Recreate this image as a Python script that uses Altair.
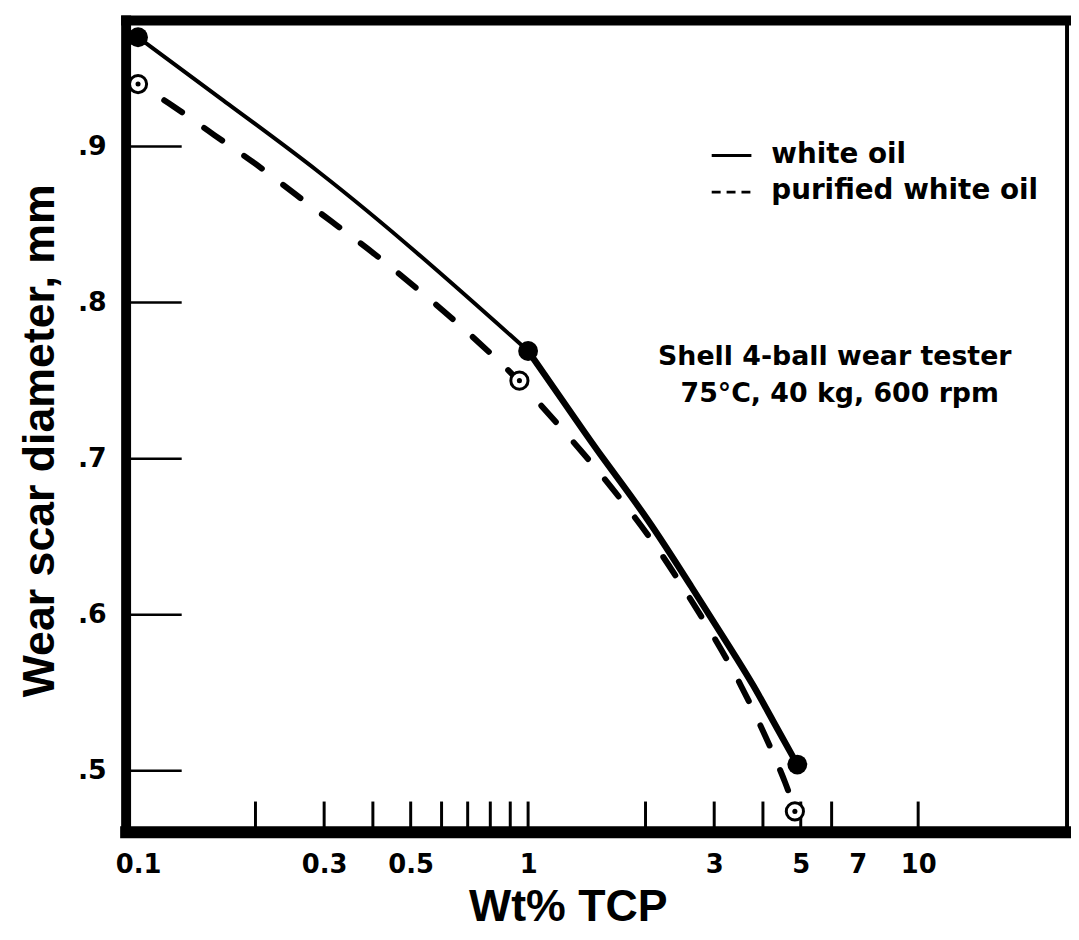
import altair as alt
import pandas as pd

# ---- data ----
white_x = [0.1, 0.160, 0.290, 0.527, 1.0, 1.335, 1.524, 2.04, 2.62, 3.35, 3.78, 4.20, 4.9]
white_y = [0.970, 0.932, 0.885, 0.831, 0.769, 0.724, 0.703, 0.661, 0.618, 0.576, 0.555, 0.534, 0.504]

pur_x = [0.1, 0.122, 0.157, 0.201, 0.254, 0.321, 0.406, 0.508, 0.646, 0.830, 0.95,
         1.44, 1.73, 2.11, 2.55, 3.03, 3.52, 4.07, 4.62, 4.83]
pur_y = [0.940, 0.927, 0.907, 0.889, 0.869, 0.850, 0.831, 0.811, 0.789, 0.764, 0.750,
         0.699, 0.674, 0.646, 0.614, 0.584, 0.555, 0.522, 0.490, 0.474]

white_pts_x = [0.1, 1.0, 4.9]
white_pts_y = [0.970, 0.769, 0.504]
pur_pts_x = [0.1, 0.95, 4.83]
pur_pts_y = [0.940, 0.750, 0.474]

x_minor_ticks = [0.2, 0.3, 0.4, 0.5, 0.6, 0.7, 0.8, 0.9, 1, 2, 3, 4, 5, 6, 10]
x_label_values = [0.1, 0.3, 0.5, 1, 3, 5, 7, 10]
y_tick_values = [0.5, 0.6, 0.7, 0.8, 0.9]

legend_labels = ["white oil", "purified white oil"]
note_lines = ["Shell 4-ball wear tester", "75°C, 40 kg, 600 rpm"]

x_title = "Wt% TCP"
y_title = "Wear scar diameter, mm"

# ---- layout ----
W, H = 948, 818
LABEL_FONT = "DejaVu Sans"
TITLE_FONT = "Liberation Sans"

xscale = alt.Scale(type="log", domain=[0.0932, 24.08], nice=False)
yscale = alt.Scale(domain=[0.4606, 0.9808], nice=False, zero=False)

xaxis = alt.Axis(
    values=x_label_values, format="~g", title=x_title, ticks=False, domain=False,
    grid=False, labelFont=LABEL_FONT, labelFontSize=26, labelFontWeight="bold",
    labelColor="black", labelPadding=19, labelOverlap=False, labelFlush=False,
    titleFont=TITLE_FONT, titleFontSize=45, titleFontWeight="bold", titleColor="black",
    titleX=445, titleY=75, titleAlign="center", titleBaseline="middle",
)
yaxis = alt.Axis(
    values=y_tick_values, labelExpr="substring(format(datum.value, '.1f'), 1)",
    title=y_title, ticks=False, domain=False, grid=False,
    labelFont=LABEL_FONT, labelFontSize=27, labelFontWeight="bold", labelColor="black",
    labelPadding=20, labelBaseline="middle",
    titleFont=TITLE_FONT, titleFontSize=45, titleFontWeight="bold", titleColor="black",
    titleX=-87, titleY=423, titleAngle=-90, titleAlign="center", titleBaseline="middle",
)

X = alt.X("x:Q", scale=xscale, axis=xaxis)
Y = alt.Y("y:Q", scale=yscale, axis=yaxis)

dummy = pd.DataFrame({"k": [0]})

# frame
frame_top = alt.Chart(dummy).mark_rule(color="black", strokeWidth=10, strokeCap="square").encode(
    x=alt.value(0), x2=alt.value(W), y=alt.value(0))
frame_left = alt.Chart(dummy).mark_rule(color="black", strokeWidth=10, strokeCap="square").encode(
    x=alt.value(0), y=alt.value(0), y2=alt.value(H))
frame_bottom = alt.Chart(dummy).mark_rule(color="black", strokeWidth=12, strokeCap="square").encode(
    x=alt.value(0), x2=alt.value(W), y=alt.value(H))
frame_right = alt.Chart(dummy).mark_rule(color="black", strokeWidth=4).encode(
    x=alt.value(W), y=alt.value(0), y2=alt.value(H))

# inner ticks
ytick_df = pd.DataFrame({"y": y_tick_values})
yticks = alt.Chart(ytick_df).mark_rule(color="black", strokeWidth=2.5).encode(
    y=Y, x=alt.value(0), x2=alt.value(56))

xtick_df = pd.DataFrame({"x": x_minor_ticks})
xticks = alt.Chart(xtick_df).mark_rule(color="black", strokeWidth=3).encode(
    x=X, y=alt.value(H), y2=alt.value(H - 31))

# curves
white_df = pd.DataFrame({"x": white_x, "y": white_y})
white_a = alt.Chart(white_df[white_df["x"] <= 1.0]).mark_line(
    color="black", strokeWidth=4, interpolate="basis", strokeCap="round").encode(x=X, y=Y)
white_b = alt.Chart(white_df[white_df["x"] >= 1.0]).mark_line(
    color="black", strokeWidth=6.5, interpolate="basis", strokeCap="round").encode(x=X, y=Y)

pur_df = pd.DataFrame({"x": pur_x, "y": pur_y})
pur_line = alt.Chart(pur_df).mark_line(
    color="black", strokeWidth=6, interpolate="basis", strokeCap="round",
    strokeDash=[22, 27], strokeDashOffset=18).encode(x=X, y=Y)

# markers
wp_df = pd.DataFrame({"x": white_pts_x, "y": white_pts_y})
white_pts = alt.Chart(wp_df).mark_point(
    shape="circle", filled=True, color="black", size=400, opacity=1).encode(x=X, y=Y)

pp_df = pd.DataFrame({"x": pur_pts_x, "y": pur_pts_y})
pur_ring = alt.Chart(pp_df).mark_point(
    shape="circle", filled=True, fill="white", stroke="black", strokeWidth=3,
    size=300, opacity=1).encode(x=X, y=Y)
pur_dot = alt.Chart(pp_df).mark_point(
    shape="circle", filled=True, color="black", size=26, opacity=1).encode(x=X, y=Y)

# legend (hand-made, like the original)
leg_solid = alt.Chart(dummy).mark_rule(color="black", strokeWidth=3).encode(
    x=alt.value(590), x2=alt.value(630), y=alt.value(136))
leg_dash = alt.Chart(dummy).mark_rule(color="black", strokeWidth=3, strokeDash=[9, 6]).encode(
    x=alt.value(590), x2=alt.value(632), y=alt.value(173))

leg_texts = []
for i, lab in enumerate(legend_labels):
    leg_texts.append(
        alt.Chart(pd.DataFrame({"t": [lab]})).mark_text(
            font=LABEL_FONT, fontSize=28, fontWeight="bold", color="black",
            align="left", baseline="alphabetic").encode(
            text="t:N", x=alt.value(650), y=alt.value(144 + 36 * i)))

note_texts = []
for i, line in enumerate(note_lines):
    note_texts.append(
        alt.Chart(pd.DataFrame({"t": [line]})).mark_text(
            font=LABEL_FONT, fontSize=27, fontWeight="bold", color="black",
            align="center", baseline="alphabetic").encode(
            text="t:N", x=alt.value(714 + 5 * i), y=alt.value(347 + 37 * i)))

chart = alt.layer(
    yticks, xticks, white_a, white_b, pur_line, pur_ring, pur_dot, white_pts,
    frame_top, frame_left, frame_bottom, frame_right,
    leg_solid, leg_dash, *leg_texts, *note_texts,
).properties(
    width=W, height=H,
    autosize=alt.AutoSizeParams(type="none"),
    padding={"left": 119, "top": 9, "right": 4, "bottom": 105},
).configure_view(stroke=None).configure(background="white")

chart.save("out.html", embed_options={"renderer": "svg", "actions": False})
